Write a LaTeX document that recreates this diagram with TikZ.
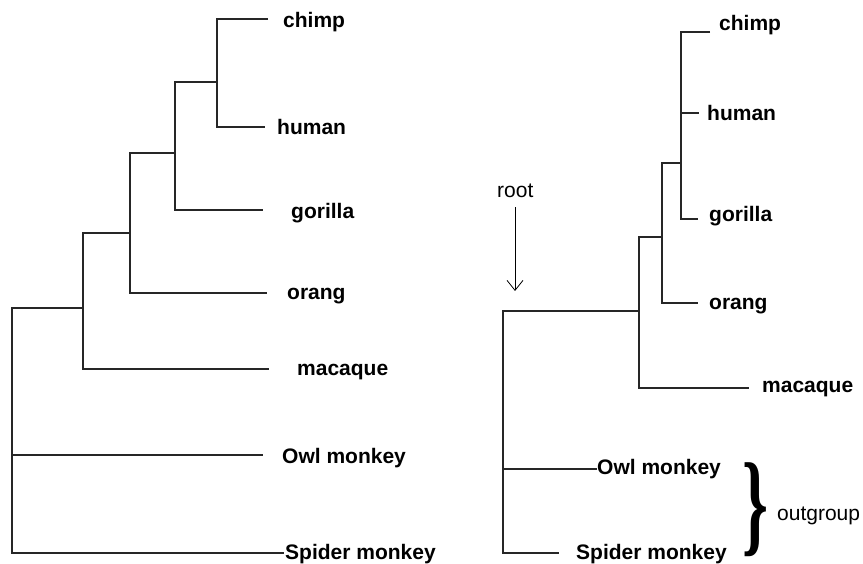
\documentclass[tikz,border=0pt]{standalone}
\usepackage{fontspec}
\usepackage{graphicx}
\setmainfont{Liberation Sans}
\newfontfamily\bracefont{Liberation Serif}
\usetikzlibrary{arrows.meta}
\tikzstyle{taxon} = [anchor=base west, inner sep=0pt, font=\fontsize{21}{25}\selectfont\bfseries]
\tikzstyle{note} = [anchor=base west, inner sep=0pt, font=\fontsize{21}{25}\selectfont]
\tikzstyle{branch} = [line width=1.1pt, draw=black!85]
\tikzstyle{arrow} = [line width=0.8pt, -{Straight Barb[length=10pt,width=16pt]}]

\begin{document}
\begin{tikzpicture}[x=1pt, y=-1pt]
\useasboundingbox (0,0) rectangle (863,564);

% left tree: tips and inner nodes
\coordinate (Lchimp) at (268,19);
\coordinate (Lhuman) at (265,127);
\coordinate (Lgorilla) at (263,210);
\coordinate (Lorang) at (267,293);
\coordinate (Lmacaque) at (269,369);
\coordinate (Lowl) at (263,455);
\coordinate (Lspider) at (284,553);
\coordinate (Lch) at (217,82);
\coordinate (Lchg) at (175,153);
\coordinate (Lchgo) at (130,233);
\coordinate (Lchgom) at (83,308);
\coordinate (Lroot) at (12,455);

\node (lchimp) [taxon] at (283,28) {chimp};
\node (lhuman) [taxon] at (277,135) {human};
\node (lgorilla) [taxon] at (291,219) {gorilla};
\node (lorang) [taxon] at (287,300) {orang};
\node (lmacaque) [taxon] at (297,376) {macaque};
\node (lowl) [taxon] at (282,463) {Owl monkey};
\node (lspider) [taxon] at (285,559) {Spider monkey};

\draw [branch] (Lchimp) -| (Lch) |- (Lhuman);
\draw [branch] (Lch) -| (Lchg) |- (Lgorilla);
\draw [branch] (Lchg) -| (Lchgo) |- (Lorang);
\draw [branch] (Lchgo) -| (Lchgom) |- (Lmacaque);
\draw [branch] (Lchgom) -| (Lroot) |- (Lspider);
\draw [branch] (Lroot) -- (Lowl);

% right tree, rooted on the outgroup
\coordinate (Rchimp) at (710,32);
\coordinate (Rhuman) at (699,113);
\coordinate (Rgorilla) at (698,219);
\coordinate (Rorang) at (698,303);
\coordinate (Rmacaque) at (749,388);
\coordinate (Rowl) at (597,469);
\coordinate (Rspider) at (559,553);
\coordinate (Rchg) at (681,163);
\coordinate (Rchgo) at (662,237);
\coordinate (Rchgom) at (639,311);
\coordinate (Rroot) at (503,469);

\node (rchimp) [taxon] at (719,31) {chimp};
\node (rhuman) [taxon] at (707,121) {human};
\node (rgorilla) [taxon] at (709,222) {gorilla};
\node (rorang) [taxon] at (709,310) {orang};
\node (rmacaque) [taxon] at (762,392) {macaque};
\node (rowl) [taxon] at (597,474) {Owl monkey};
\node (rspider) [taxon] at (576,559) {Spider monkey};

\draw [branch] (Rchimp) -| (Rchg) |- (Rgorilla);
\draw [branch] (Rchg |- Rhuman) -- (Rhuman);
\draw [branch] (Rchg) -| (Rchgo) |- (Rorang);
\draw [branch] (Rchgo) -| (Rchgom) |- (Rmacaque);
\draw [branch] (Rchgom) -| (Rroot) |- (Rspider);
\draw [branch] (Rroot) -- (Rowl);

% root marker and outgroup brace
\node (root) [note] at (497,198) {root};
\coordinate (rootpoint) at (515,291);
\draw [arrow] (root.south -| rootpoint) ++(0,9) -- (rootpoint);
\node (brace) [inner sep=0pt] at (755,510) {\bracefont\bfseries\resizebox*{26pt}{94pt}{\}}};
\node (outgroup) [note] at (777,520) {outgroup};
\end{tikzpicture}
\end{document}
